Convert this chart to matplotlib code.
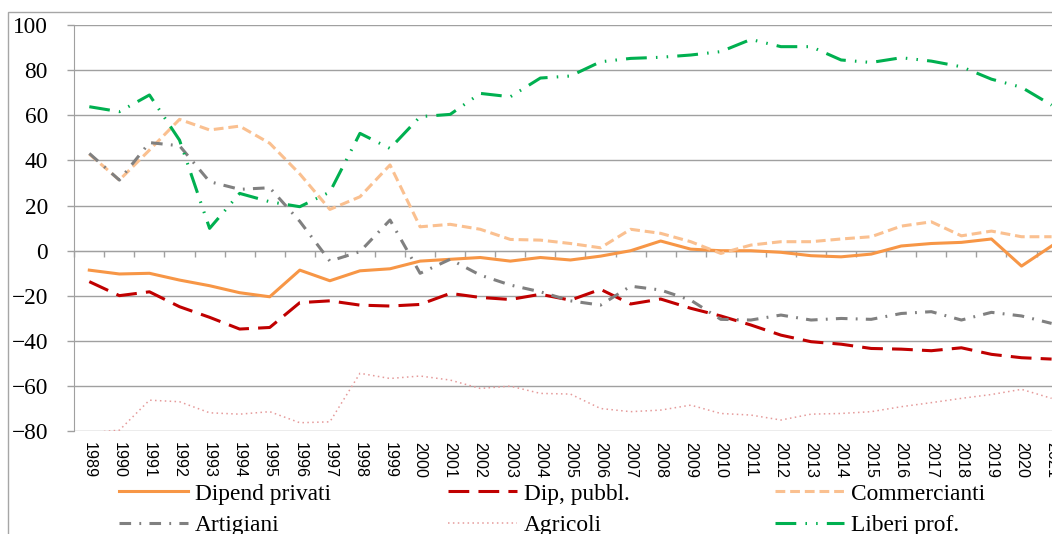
import matplotlib
matplotlib.use("Agg")
import matplotlib.pyplot as plt
from matplotlib.patches import Rectangle

years = [str(y) for y in range(1989, 2022)]

dipend_privati = [-8.6, -10.3, -10.0, -13.0, -15.5, -18.6, -20.4, -8.6, -13.3, -8.9,
                  -8.0, -4.6, -3.8, -3.0, -4.6, -3.0, -4.1, -2.4, 0.0, 4.3,
                  0.7, 0.0, 0.0, -0.7, -2.2, -2.7, -1.5, 2.1, 3.2, 3.7,
                  5.2, -6.8, 2.1]
dip_pubbl = [-13.7, -19.9, -18.2, -24.8, -29.5, -34.7, -34.0, -23.0, -22.2, -24.1,
             -24.5, -23.8, -18.9, -20.7, -21.6, -19.3, -21.9, -17.1, -23.6, -21.4,
             -25.5, -28.9, -32.9, -37.4, -40.3, -41.4, -43.3, -43.6, -44.3, -43.0,
             -45.9, -47.4, -48.0]
commercianti = [42.8, 31.3, 44.6, 58.2, 53.5, 55.2, 47.6, 34.0, 18.3, 23.9,
                38.0, 10.6, 11.7, 9.5, 5.0, 4.7, 3.2, 1.3, 9.5, 7.7,
                4.0, -1.2, 2.5, 4.0, 4.0, 5.2, 6.2, 10.9, 12.8, 6.6,
                8.7, 6.2, 6.2]
artigiani = [43.1, 31.3, 47.9, 46.5, 30.6, 27.2, 27.9, 13.0, -4.6, -0.4,
             13.6, -10.0, -3.8, -10.8, -15.2, -18.2, -22.2, -24.1, -15.7, -17.4,
             -21.9, -30.4, -30.7, -28.5, -30.7, -30.0, -30.4, -27.8, -27.0, -30.7,
             -27.3, -28.9, -32.2]
agricoli = [-80.6, -79.5, -66.2, -66.9, -71.8, -72.4, -71.3, -76.2, -75.8, -54.3,
            -56.6, -55.5, -57.3, -61.0, -60.0, -63.2, -63.5, -69.9, -71.3, -70.6,
            -68.4, -72.1, -72.8, -75.0, -72.4, -72.1, -71.3, -69.1, -67.3, -65.4,
            -63.7, -61.4, -65.4]
liberi_prof = [63.8, 61.6, 69.0, 49.0, 9.9, 25.4, 21.7, 19.5, 26.0, 52.0,
               45.3, 59.4, 60.4, 69.7, 68.2, 76.5, 77.4, 83.7, 85.2, 85.7,
               86.7, 88.2, 93.6, 90.4, 90.4, 84.5, 83.4, 85.5, 84.0, 81.5,
               76.0, 72.4, 64.5]

serif = ["Liberation Serif", "DejaVu Serif"]
narrow = ["Liberation Sans Narrow", "Liberation Sans", "DejaVu Sans"]
grid_col = "#A0A0A0"

fig = plt.figure(figsize=(10.52, 5.34), dpi=100)
ax = fig.add_axes([0.0706, 0.1923, 0.9433, 0.7609])

x = list(range(len(years)))
lw = 2.2
l1, = ax.plot(x, dipend_privati, color="#F79646", lw=lw, label="Dipend privati")
l2, = ax.plot(x, dip_pubbl, color="#C00000", lw=lw, linestyle=(0, (6.8, 3.0)), label="Dip, pubbl.")
l3, = ax.plot(x, commercianti, color="#FAC090", lw=lw, linestyle=(0, (3.2, 1.6)), label="Commercianti")
l4, = ax.plot(x, artigiani, color="#808080", lw=lw, linestyle=(0, (3.8, 2.7, 0.6, 2.7)), label="Artigiani")
l5, = ax.plot(x, agricoli, color="#E59A9A", lw=1.1, linestyle=(0, (1, 2.2)), label="Agricoli")
l6, = ax.plot(x, liberi_prof, color="#00B050", lw=lw, linestyle=(0, (6.8, 3.0, 0.5, 3.0, 0.5, 3.0)),
              label="Liberi prof.")

ax.set_xlim(-0.5, len(years) - 0.5)
ax.set_ylim(-80, 100)
ax.set_yticks(range(-80, 101, 20))
ax.yaxis.grid(True, color=grid_col, lw=1)
ax.set_axisbelow(True)
for s in ["top", "right", "bottom"]:
    ax.spines[s].set_visible(False)
ax.spines["left"].set_color(grid_col)
ax.tick_params(axis="y", length=5, width=1, color=grid_col, pad=14)
for t in ax.get_yticklabels():
    t.set_fontfamily(serif)
    t.set_fontsize(16.8)

ax.set_xticks(x)
ax.set_xticklabels(years, rotation=270, fontsize=11.6, family=narrow)
ax.tick_params(axis="x", length=0, pad=8)

# category axis crossing at zero
zero_ax = ax.secondary_xaxis(80 / 180)
zero_ax.set_xticks([i + 0.5 for i in x[:-1]] + [-0.5])
zero_ax.tick_params(axis="x", direction="out", length=4.3, width=1, color=grid_col, labelbottom=False, labeltop=False)
zero_ax.spines["bottom"].set_color(grid_col)
zero_ax.spines["top"].set_visible(False)

# outer chart border
fig.add_artist(Rectangle((8.3 / 1052, -1), 2, 1 + (1 - 11.7 / 534), transform=fig.transFigure,
                         fill=False, edgecolor="#A6A6A6", lw=1))

cols = [([l1, l4], 118.7), ([l2, l5], 448), ([l3, l6], 775)]
for handles, px in cols:
    fig.legend(handles=handles, loc="center left", bbox_to_anchor=(px / 1052, 1 - 509.5 / 534),
               frameon=False, borderpad=0, borderaxespad=0, handlelength=2.96, handletextpad=0.3,
               labelspacing=0.42, prop={"family": serif, "size": 16.8})

fig.savefig("out.png", dpi=100)
